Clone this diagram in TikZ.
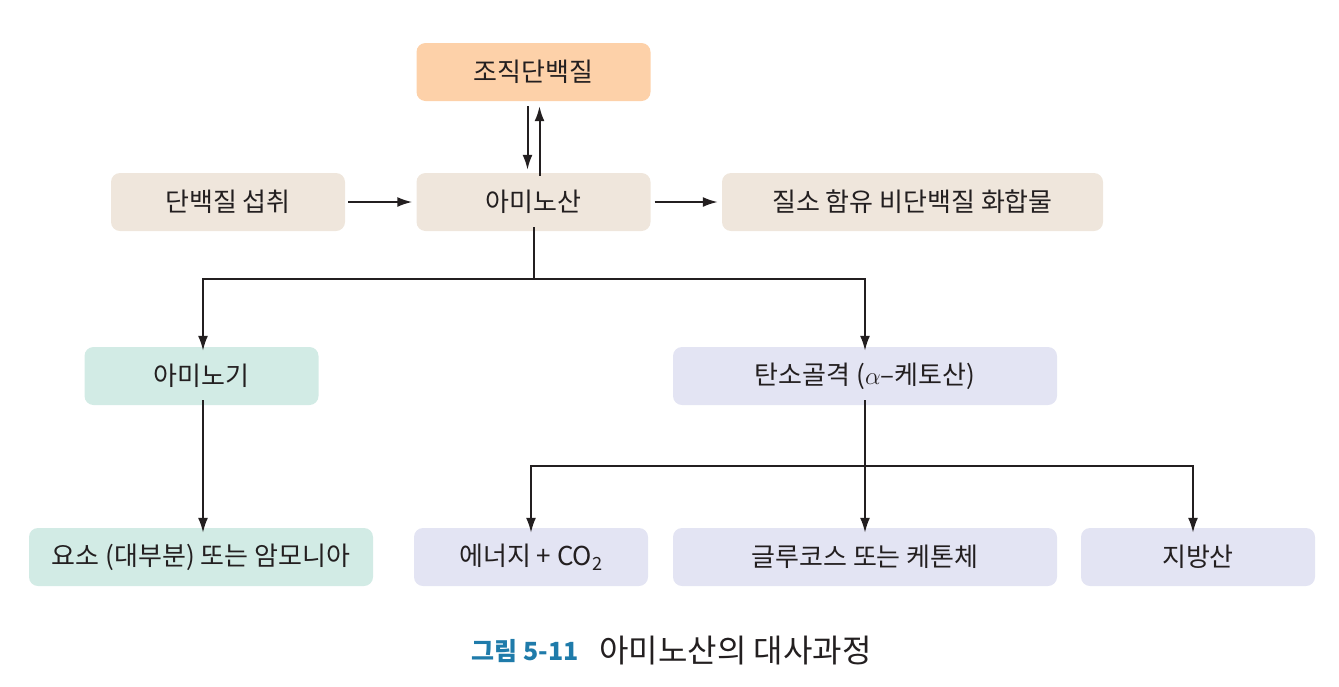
\documentclass[tikz,border=0pt]{standalone}
\usepackage{fontspec}
\setmainfont{Noto Sans CJK KR}
\usetikzlibrary{arrows.meta}
\definecolor{peach}{HTML}{FDD1A9}
\definecolor{beige}{HTML}{EFE6DC}
\definecolor{mint}{HTML}{D2EBE5}
\definecolor{lav}{HTML}{E3E4F3}
\definecolor{capblue}{HTML}{1F7BAA}
\definecolor{txt}{HTML}{231F20}
\tikzset{
  box/.style={rounded corners=9pt, minimum height=58pt, inner sep=0pt, font=\fontsize{26}{29}\selectfont, text=txt},
  conn/.style={line width=2pt, draw=txt},
  arr/.style={conn, -{Latex[length=15pt,width=10pt]}},
}
\begin{document}
\begin{tikzpicture}[x=1pt,y=-1pt]
\useasboundingbox (0,0) rectangle (1339,686);
\node[box, fill=peach, minimum width=234pt] (tissue) at (533.5,72) {조직단백질};
\node[box, fill=beige, minimum width=234pt] (intake) at (228,202) {단백질 섭취};
\node[box, fill=beige, minimum width=234pt] (aa) at (533.5,202) {아미노산};
\node[box, fill=beige, minimum width=381pt] (nonprot) at (912.5,202) {질소 함유 비단백질 화합물};
\node[box, fill=mint, minimum width=234pt] (amino) at (201.5,376) {아미노기};
\node[box, fill=lav, minimum width=384pt] (carbon) at (865,376) {탄소골격 (\(\alpha\)–케토산)};
\node[box, fill=mint, minimum width=344pt] (urea) at (201,557) {요소 (대부분) 또는 암모니아};
\node[box, fill=lav, minimum width=234pt] (energy) at (531,557) {에너지 + CO\textsubscript{2}};
\node[box, fill=lav, minimum width=384pt] (glucose) at (865,557) {글루코스 또는 케톤체};
\node[box, fill=lav, minimum width=234pt] (fatty) at (1198,557) {지방산};
\node[anchor=west, font=\fontsize{25}{28}\selectfont\bfseries, text=capblue] (capa) at (468,651) {그림 5-11};
\node[anchor=west, font=\fontsize{32}{35}\selectfont, text=txt] (capb) at (596,651) {아미노산의 대사과정};
% arrows
\draw[arr] ([xshift=-6pt,yshift=-5pt]tissue.south) -- ([xshift=-6pt,yshift=3pt]aa.north);
\draw[arr] ([xshift=6pt,yshift=-3pt]aa.north) -- ([xshift=6pt,yshift=-5pt]tissue.south);
\draw[arr] ([xshift=3pt]intake.east) -- ([xshift=-4pt]aa.west);
\draw[arr] ([xshift=4pt]aa.east) -- ([xshift=-4pt]nonprot.west);
\coordinate (j1) at (533.5,279);
\draw[conn] ([yshift=4pt]aa.south) -- (j1);
\draw[arr] (j1) -| ([yshift=-4pt]amino.north -| 203,0);
\draw[arr] (j1) -| ([yshift=-4pt]carbon.north);
\draw[arr] ([xshift=1.5pt,yshift=5pt]amino.south) -- ([xshift=2pt,yshift=-5pt]urea.north);
\coordinate (j2) at (865,466);
\draw[arr] ([yshift=5pt]carbon.south) -- ([yshift=-5pt]glucose.north);
\draw[arr] (j2) -| ([yshift=-5pt]energy.north);
\draw[arr] (j2) -| ([xshift=-5pt,yshift=-5pt]fatty.north);
\end{tikzpicture}
\end{document}
